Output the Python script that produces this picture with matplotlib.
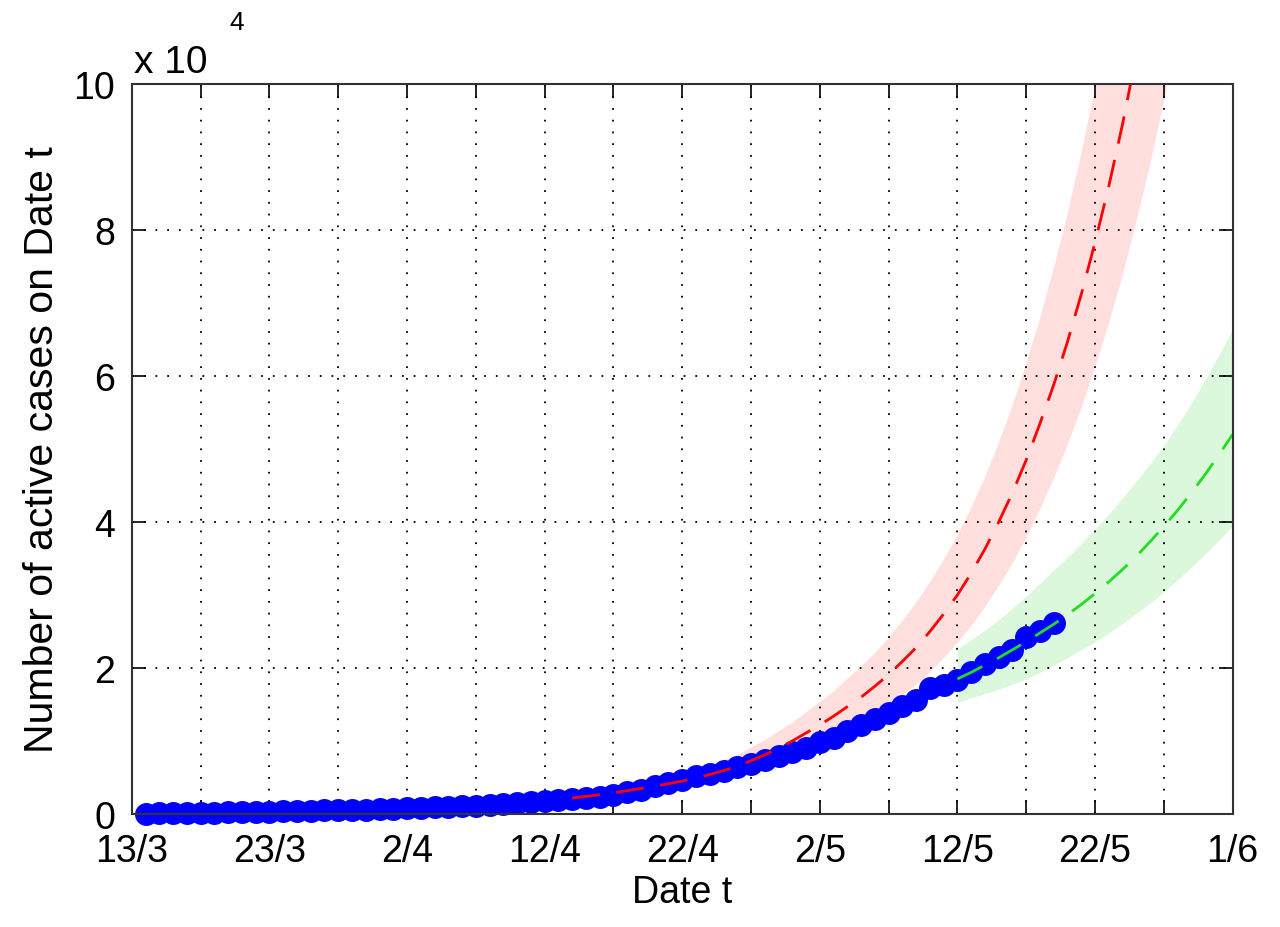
import numpy as np
import matplotlib.pyplot as plt

plt.rcParams['font.family'] = ['Liberation Sans', 'DejaVu Sans']

# tick labels on the date axis (every 5 days, label every 10)
tick_days = list(range(0, 81, 5))
tick_labels = ['13/3', '', '23/3', '', '2/4', '', '12/4', '', '22/4', '',
               '2/5', '', '12/5', '', '22/5', '', '1/6']

# observed active cases, one per day from 14/3
obs_start = 1
obs_cases = [60, 80, 100, 130, 160, 190, 220, 250, 280,
             320, 360, 400, 440, 480, 520, 560, 600, 650, 700,
             760, 820, 890, 960, 1040, 1120, 1220, 1330, 1450, 1580,
             1720, 1880, 2050, 2150, 2300, 2600, 2950, 3350, 3800, 4250,
             4650, 5150, 5500, 5900, 6400, 6900, 7400, 7900, 8500, 9000,
             9900, 10400, 11400, 12200, 13000, 13900, 14800, 15600, 17200, 17600,
             18300, 19400, 20500, 21500, 22500, 24200, 25000, 26200]

# first model (red), days 32..76
red_start = 32
red_mid = [2200, 2400, 2650, 2900, 3200, 3500, 3800, 4150, 4500, 4950,
           5400, 5950, 6500, 7300, 8100, 9000, 10000, 11100, 12200, 13400,
           14700, 16000, 17500, 19100, 20900, 22800, 25000, 27400, 30000, 33000,
           36300, 40000, 44000, 48500, 53500, 58800, 64700, 71200, 78300, 86000,
           94500, 104000, 114000, 125000, 138000]
red_upper = [2290, 2540, 2860, 3190, 3580, 3990, 4410, 4900, 5400, 5990,
             6590, 7320, 8060, 9100, 10100, 11300, 12500, 13900, 15300, 16800,
             18500, 20200, 22000, 24100, 26400, 28900, 31700, 34800, 38100, 41900,
             46100, 50800, 55900, 61600, 67900, 74700, 82200, 90400, 99400, 109000,
             120000, 132000, 145000, 159000, 175000]
red_lower = [2110, 2280, 2470, 2640, 2850, 3040, 3230, 3450, 3640, 3960,
             4270, 4640, 5010, 5800, 6400, 7100, 7850, 8700, 9550, 10400,
             11400, 12400, 13600, 14800, 16200, 17700, 19400, 21300, 23400, 25700,
             28300, 31200, 34300, 37800, 41700, 45900, 50500, 55500, 61100, 67100,
             73700, 81100, 88900, 97500, 107600]

# second model (green), days 60..80
green_start = 60
green_mid = [18500, 19400, 20400, 21400, 22500, 23600, 24800, 26000, 27300, 28700,
             30200, 31800, 33500, 35300, 37300, 39400, 41600, 44000, 46500, 49200,
             52000]
green_upper = [22600, 23900, 25200, 26600, 28200, 29900, 31600, 33400, 35200, 37100,
               39000, 41100, 43300, 45600, 48000, 50500, 53300, 56300, 59500, 62900,
               66400]
green_lower = [15300, 15900, 16500, 17100, 17800, 18500, 19400, 20400, 21400, 22500,
               23600, 24800, 26100, 27500, 28900, 30400, 32100, 33800, 35600, 37500,
               39500]

obs_days = obs_start + np.arange(len(obs_cases))
red_days = red_start + np.arange(len(red_mid))
green_days = green_start + np.arange(len(green_mid))

fig = plt.figure(figsize=(12.8, 9.28), dpi=100)
ax = fig.add_axes([0.103, 0.1218, 0.860, 0.7866])

ax.fill_between(red_days, red_lower, red_upper, color='#ffdede', lw=0, zorder=1)
ax.fill_between(green_days, green_lower, green_upper, color='#dcf8dc', lw=0, zorder=1)

ax.plot(obs_days, obs_cases, 'o', ms=15.5, mfc='#0000ff', mec='#0000ff',
        zorder=3, clip_on=False)
ax.plot(red_days, red_mid, color='#ff0000', lw=2, dashes=(10, 6), zorder=4)
ax.plot(green_days, green_mid, color='#22dd22', lw=2, dashes=(10, 6), zorder=4)

ax.set_xlim(0, 80)
ax.set_ylim(0, 1e5)
ax.set_xticks(tick_days)
ax.set_xticklabels(tick_labels)
ax.set_yticks([0, 2e4, 4e4, 6e4, 8e4, 1e5])
ax.set_yticklabels(['0', '2', '4', '6', '8', '10'])
ax.tick_params(direction='in', length=10, width=1.2, top=True, right=True,
               labelsize=27, colors='black')
ax.tick_params(axis='x', pad=14)
ax.tick_params(axis='y', pad=12)
ax.grid(True, color='black', lw=1.3, dashes=(1, 5.5))
ax.set_axisbelow(False)
for s in ax.spines.values():
    s.set_linewidth(1.5)
    s.set_color('#333333')
    s.set_zorder(5)

ax.set_xlabel('Date t', fontsize=27, labelpad=3)
ax.set_ylabel('Number of active cases on Date t', fontsize=29.5, labelpad=9)

fig.text(0.105, 0.921, 'x 10', fontsize=28, ha='left', va='baseline')
fig.text(0.179, 0.968, '4', fontsize=19, ha='left', va='baseline')

fig.savefig('out.png', dpi=100)
